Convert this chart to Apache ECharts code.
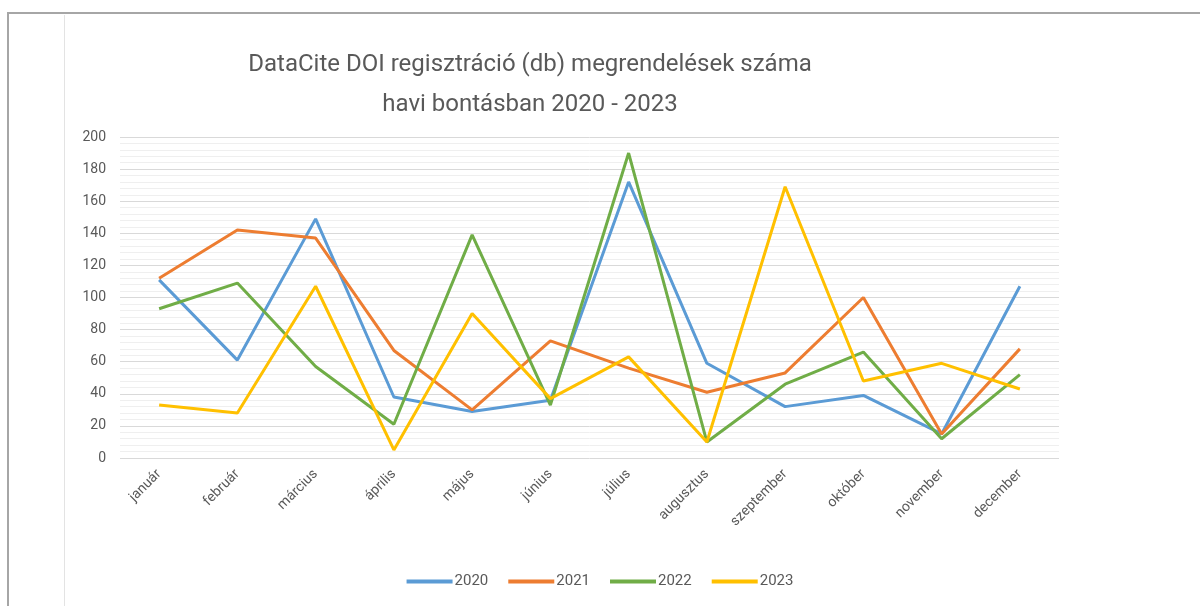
<!DOCTYPE html>
<html>
<head>
<meta charset="utf-8">
<script src="https://cdn.jsdelivr.net/npm/echarts@6/dist/echarts.min.js"></script>
<style>
  html, body { margin: 0; padding: 0; background: #fff; }
  #chart { width: 1200px; height: 606px; }
</style>
</head>
<body>
<div id="chart"></div>
<script>
const months = ['január', 'február', 'március', 'április', 'május', 'június',
  'július', 'augusztus', 'szeptember', 'október', 'november', 'december']
const years = ['2020', '2021', '2022', '2023']
const v2020 = [111, 61, 149, 38, 29, 36, 172, 59, 32, 39, 15, 107]
const v2021 = [112, 142, 137, 67, 30, 73, 56, 41, 53, 100, 15, 68]
const v2022 = [93, 109, 57, 21, 139, 33, 190, 10, 46, 66, 12, 52]
const v2023 = [33, 28, 107, 5, 90, 37, 63, 10, 169, 48, 59, 43]
const colors = ['#5b9bd5', '#ed7d31', '#70ad47', '#ffc000']

const font = 'Roboto, "Noto Sans", sans-serif'
const chart = echarts.init(document.getElementById('chart'))

const series = [v2020, v2021, v2022, v2023].map((d, i) => ({
  name: years[i],
  type: 'line',
  symbol: 'none',
  data: d,
  lineStyle: { width: 3, color: colors[i] },
  itemStyle: { color: colors[i] }
}))

chart.setOption({
  animation: false,
  textStyle: { fontFamily: font },
  title: {
    text: 'DataCite DOI regisztráció (db) megrendelések száma\nhavi bontásban 2020 - 2023',
    left: 525,
    top: 40,
    textAlign: 'center',
    textStyle: { fontFamily: font, fontSize: 24, fontWeight: 'normal', color: '#595959', lineHeight: 40, align: 'center' }
  },
  graphic: [
    { type: 'rect', shape: { x: 7, y: 12, width: 1193, height: 2 }, style: { fill: '#a6a6a6' } },
    { type: 'rect', shape: { x: 7, y: 12, width: 2, height: 594 }, style: { fill: '#a6a6a6' } },
    { type: 'rect', shape: { x: 64, y: 15, width: 1, height: 591 }, style: { fill: '#e3e3e3' } }
  ],
  legend: {
    data: years.map(y => ({ name: y, icon: 'rect' })),
    left: 'center',
    top: 569,
    itemWidth: 46,
    itemHeight: 4,
    itemGap: 20,
    textStyle: { fontFamily: font, fontSize: 15, color: '#595959', padding: [0, 0, 0, -3] }
  },
  grid: { left: 120, right: 141, top: 137, bottom: 148 },
  xAxis: {
    type: 'category',
    data: months,
    boundaryGap: true,
    axisLine: { show: false },
    axisTick: { show: false },
    axisLabel: { rotate: 45, fontSize: 14, color: '#595959', margin: 14, interval: 0 }
  },
  yAxis: {
    type: 'value',
    min: 0,
    max: 200,
    interval: 20,
    axisLine: { show: false },
    axisTick: { show: false },
    axisLabel: { fontSize: 14, color: '#595959', margin: 14 },
    splitLine: { lineStyle: { color: '#d9d9d9', width: 1 } },
    minorTick: { show: false, splitNumber: 5 },
    minorSplitLine: { show: true, lineStyle: { color: '#efefef', width: 1 } }
  },
  series: series
})
</script>
</body>
</html>
